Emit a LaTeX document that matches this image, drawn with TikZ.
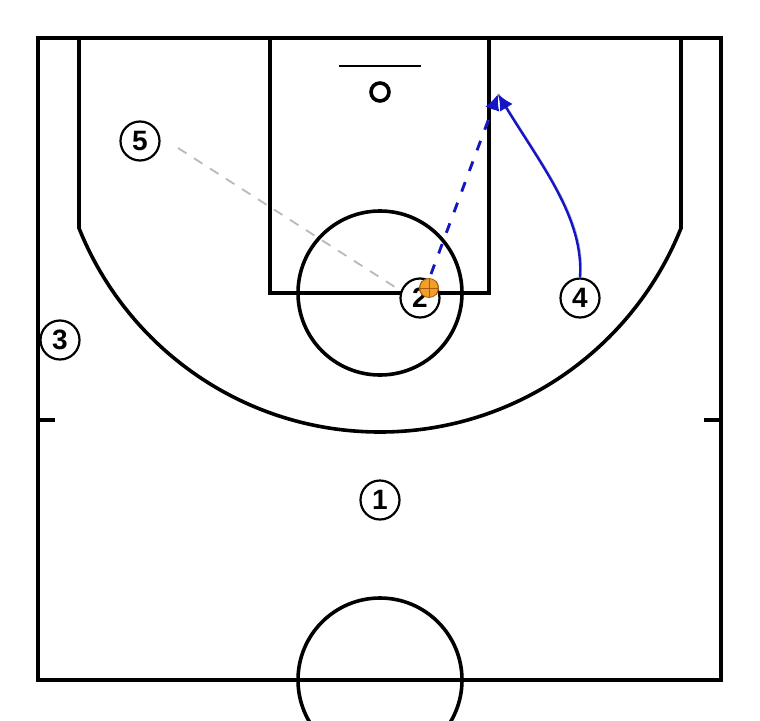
\documentclass[tikz,border=0pt]{standalone}
\usepackage{fontspec}
\setmainfont{Liberation Sans}
\usetikzlibrary{arrows.meta}
\definecolor{passblue}{RGB}{20,20,200}
\definecolor{ballorange}{RGB}{240,160,40}
\definecolor{seamcol}{RGB}{170,90,10}
\begin{document}
\begin{tikzpicture}[x=1pt,y=-1pt,
  court/.style={line width=3.6pt, black},
  player/.style={circle, draw, line width=2.2pt, fill=white, minimum size=39pt, inner sep=0pt, font=\bfseries\fontsize{28}{28}\selectfont},
  ballnode/.style={circle, fill=ballorange, draw=seamcol, line width=0.8pt, minimum size=19pt, inner sep=0pt},
  seam/.style={seamcol, line width=0.8pt},
  ghost/.style={gray!55, line width=1.8pt, dash pattern=on 10pt off 9pt},
  tipstyle/.style={-{Latex[length=16pt,width=15pt]}},
  cutline/.style={passblue, line width=2.4pt, tipstyle},
  passline/.style={passblue, line width=2.8pt, dash pattern=on 10pt off 12pt, tipstyle},
  shadow/.style={gray!55, line width=2.6pt, shift={(2,2)}}]
\useasboundingbox (0,0) rectangle (760,720);
\clip (0,0) rectangle (760,720);
\fill[white] (0,0) rectangle (760,720);
% court
\draw[court] (38,38) rectangle (721,680);
\draw[court] (270,38) rectangle (489,293);
\draw[court] (380,293) circle[radius=82pt];
\draw[court] (380,680) circle[radius=82pt];
\draw[court] (79,38) -- (79,228);
\draw[court] (681,38) -- (681,229);
\begin{scope}
  \clip (60,228) rectangle (700,450);
  \draw[court] (380,108) circle[radius=324pt];
\end{scope}
\draw[court] (38,420) -- (55,420);
\draw[court] (704,420) -- (721,420);
\draw[line width=2.4pt] (339,66) -- (421,66);
\draw[line width=3.6pt] (380,92) circle[radius=9pt];
% players
\node[player] (p5) at (140,141) {5};
\node[player] (p3) at (60,340) {3};
\node[player] (p1) at (380,500) {1};
\node[player] (p4) at (580,298) {4};
% ghost line 5 -> 2
\coordinate (g5) at (178,148);
\coordinate (g2) at (398,289);
\draw[ghost] (g5) -- (g2);
\node[player] (p2) at (420,298) {2};
% ball
\node[ballnode] (ball) at (429,288) {};
\draw[seam] (ball.north) -- (ball.south);
\draw[seam] (ball.west) -- (ball.east);
\draw[seam] (ball.north west) to[bend right=35] (ball.south west);
\draw[seam] (ball.north east) to[bend left=35] (ball.south east);
% pass and cut
\coordinate (passstart) at (431,274);
\coordinate (tip) at (498,94);
\draw[shadow, dash pattern=on 10pt off 12pt] (passstart) -- (tip);
\draw[passline] (passstart) -- (tip);
\draw[shadow] (p4.north) .. controls (584,218) and (541,165) .. (tip);
\draw[cutline] (p4.north) .. controls (584,218) and (541,165) .. (tip);
\end{tikzpicture}
\end{document}
